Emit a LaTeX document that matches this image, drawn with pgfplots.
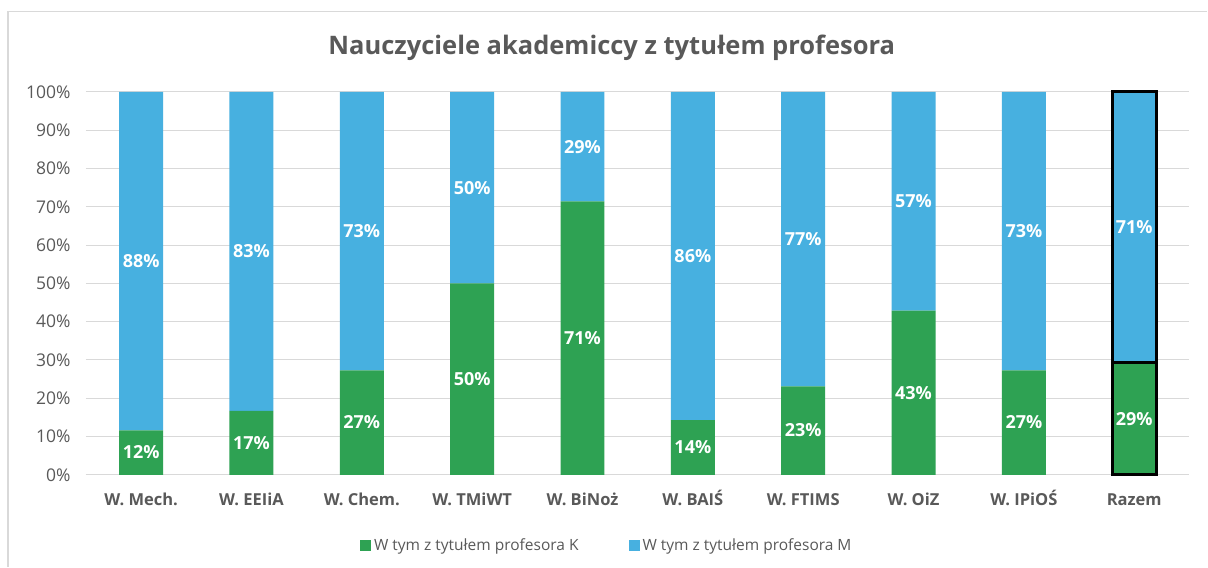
\documentclass[border=0pt]{standalone}
\usepackage{pgfplots}
\pgfplotsset{compat=1.18}
\usepackage{fontspec}
\setmainfont{Open Sans}
\definecolor{kgreen}{HTML}{2EA253}
\definecolor{mblue}{HTML}{47B0E0}
\definecolor{txtgray}{HTML}{595959}
\definecolor{gridgray}{HTML}{D9D9D9}
\pgfplotsset{
  commonaxis/.style={
    at={(86pt,92pt)}, anchor=south west,
    width=1104pt, height=383pt, scale only axis,
    ybar stacked, bar width=44pt,
    xmin=-0.5, xmax=9.5, ymin=0, ymax=100,
    nodes near coords={\pgfmathprintnumber[fixed,precision=0]{\pgfplotspointmeta}\%},
    every node near coord/.append style={font=\fontsize{18}{21}\selectfont\bfseries, text=white, anchor=center, /pgf/number format/assume math mode=true},
    nodes near coords align={center},
    clip=false,
  }
}
\begin{document}
\begin{tikzpicture}[x=1pt,y=1pt]
\path[fill=white] (0,0) rectangle (1208,567);
\draw[gridgray, line width=1.2pt] (8,0) -- (8,555.5) -- (1208,555.5);
\node[font=\fontsize{25.5}{30}\selectfont\bfseries, text=txtgray] at (612,519) {Nauczyciele akademiccy z tytułem profesora};
\begin{axis}[
  commonaxis,
  xtick={0,...,9},
  xticklabels={W. Mech., W. EEIiA, W. Chem., W. TMiWT, W. BiNoż, W. BAIŚ, W. FTIMS, W. OiZ, W. IPiOŚ, Razem},
  xticklabel style={font=\fontsize{16.5}{19}\selectfont\bfseries, text=txtgray, anchor=base, yshift=-31pt},
  ytick={0,10,...,100},
  yticklabel={\pgfmathprintnumber{\tick}\%},
  yticklabel style={font=\fontsize{17.5}{20}\selectfont, text=txtgray, xshift=-12pt},
  /pgf/number format/assume math mode=true,
  ymajorgrids, grid style={gridgray, line width=1pt},
  axis line style={draw=none},
  axis x line*=bottom,
  x axis line style={draw=gridgray, line width=1pt},
  major tick length=0pt,
  legend style={at={(0.472,-0.185)}, anchor=center, draw=none, legend columns=2,
    font=\fontsize{15.5}{18}\selectfont, text=txtgray,
    /tikz/every even column/.append style={column sep=48pt},
    /tikz/every odd column/.append style={column sep=1pt}},
  legend image code/.code={\fill[#1, draw=none] (0pt,-5.5pt) rectangle (11pt,5.5pt);},
]
\addplot+[fill=kgreen, draw=none] coordinates {
 (0,11.6) (1,16.7) (2,27.3) (3,50) (4,71.4) (5,14.3) (6,23.1) (7,42.9) (8,27.3)};
\addplot+[fill=mblue, draw=none] coordinates {
 (0,88.4) (1,83.3) (2,72.7) (3,50) (4,28.6) (5,85.7) (6,76.9) (7,57.1) (8,72.7)};
\legend{W tym z tytułem profesora K, W tym z tytułem profesora M}
\end{axis}
\begin{axis}[commonaxis, hide axis]
\addplot+[fill=kgreen, draw=black, line width=3pt] coordinates {(9,29.3)};
\addplot+[fill=mblue, draw=black, line width=3pt] coordinates {(9,70.7)};
\end{axis}
\end{tikzpicture}
\end{document}
